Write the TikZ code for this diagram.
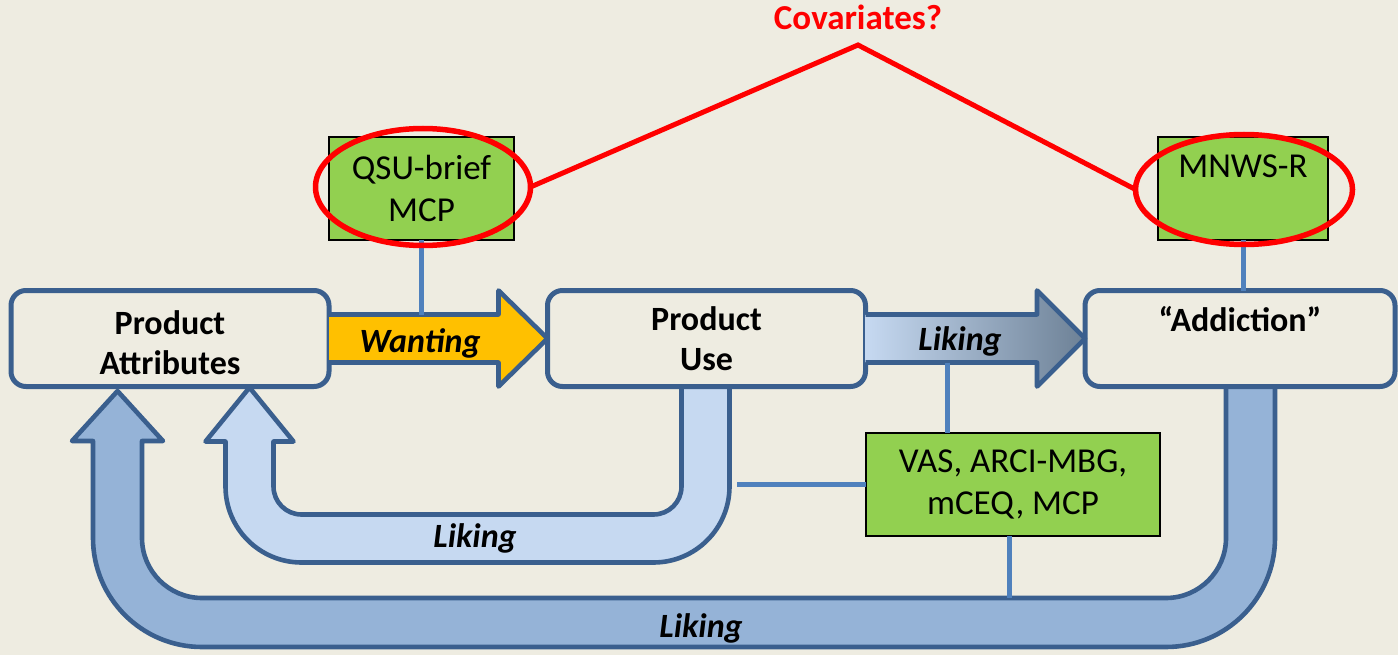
\documentclass[tikz,border=0pt]{standalone}
\usepackage{fontspec}
\setmainfont{Carlito}
\usetikzlibrary{calc,shapes.geometric}
\definecolor{bg}{HTML}{EEECE1}
\definecolor{frame}{HTML}{3A5F8E}
\definecolor{linkblue}{HTML}{4F81BD}
\definecolor{measgreen}{HTML}{92D050}
\definecolor{amber}{HTML}{FFC000}
\definecolor{paleblue}{HTML}{C6D9F1}
\definecolor{midblue}{HTML}{95B3D7}
\definecolor{steel}{HTML}{6D8196}
\begin{document}
\begin{tikzpicture}[x=1pt,y=-1pt,
  stage/.style={draw=frame, line width=5pt, fill=bg, rounded corners=15pt,
    minimum height=96pt, inner sep=0pt, outer sep=0pt, align=center,
    font=\fontsize{34}{40}\selectfont\bfseries},
  measure/.style={draw=black, line width=1.6pt, fill=measgreen,
    minimum height=103pt, inner sep=0pt, outer sep=0pt, align=center,
    font=\fontsize{35}{42}\selectfont},
  ring/.style={ellipse, draw=red, line width=5.5pt, inner sep=0pt, outer sep=0pt},
  fatarrow/.style={draw=frame, line width=4.6pt, line join=round},
  flowlabel/.style={font=\fontsize{34}{40}\selectfont\bfseries\itshape, inner sep=0pt},
  link/.style={draw=linkblue, line width=5pt},
]
% canvas
\fill[bg] (0,0) rectangle (1398,655);
\useasboundingbox (0,0) rectangle (1398,655);

% stage boxes (positions only; drawn later on top of the feedback arrows)
\path (170,338.5) coordinate (paC) (706.5,338.5) coordinate (puC) (1240,338.5) coordinate (adC);
\path (paC) node[stage, minimum width=318pt, draw=none, fill=none] (pa) {\phantom{Product}\\\phantom{Attributes}};
\path (puC) node[stage, minimum width=318pt, draw=none, fill=none] (pu) {\phantom{Product}\\\phantom{Use}};
\path (adC) node[stage, minimum width=310pt, draw=none, fill=none] (ad) {\phantom{A}};

% feedback: Addiction -> Product Attributes
\draw[fatarrow, fill=midblue] ($(ad.south)+(35,0)$)
  -- ++(0,151.5) arc[start angle=0,end angle=90,radius=109]
  -- ++(-964,0) arc[start angle=90,end angle=180,radius=109]
  -- ++(0,-97) -- ++(-21,0) -- ++(45.5,-50) -- ++(45.5,50) -- ++(-21,0)
  -- ++(0,97) arc[start angle=180,end angle=90,radius=60]
  -- ++(964,0) arc[start angle=90,end angle=0,radius=60]
  -- ++(0,-151.5) -- cycle;
% feedback: Product Use -> Product Attributes
\draw[fatarrow, fill=paleblue] ($(pu.south)+(23,0)$)
  -- ++(0,100) arc[start angle=0,end angle=90,radius=76]
  -- ++(-352,0) arc[start angle=90,end angle=180,radius=76]
  -- ++(0,-45) -- ++(-20,0) -- ++(44,-54) -- ++(44,54) -- ++(-20,0)
  -- ++(0,45) arc[start angle=180,end angle=90,radius=28]
  -- ++(352,0) arc[start angle=90,end angle=0,radius=28]
  -- ++(0,-100) -- cycle;
\node[flowlabel] (l2) at (475,538) {Liking};
\node[flowlabel] (l3) at (701,628) {Liking};

% stage boxes
\node[stage, minimum width=318pt] (pa) at (paC) {\rule{0pt}{33pt}Product\\Attributes};
\node[stage, minimum width=318pt] (pu) at (puC) {Product\\Use};
\node[stage, minimum width=310pt] (ad) at (adC) {“Addiction”\\[-12pt]\strut};

% forward arrows
\coordinate (wtop) at ($(pa.east)+(0,-24)$);
\draw[fatarrow, fill=amber] (wtop) -- ($(pu.west)+(-49,-24)$) -- ($(pu.west)+(-49,-48)$)
  -- (pu.west) -- ($(pu.west)+(-49,48)$) -- ($(pu.west)+(-49,24)$) -- ($(pa.east)+(0,24)$);
\node[flowlabel] (l0) at (420,343) {Wanting};
\draw[fatarrow, left color=paleblue, right color=steel] ($(pu.east)+(0,-24)$)
  -- ($(ad.west)+(-48,-24)$) -- ($(ad.west)+(-48,-48)$) -- (ad.west)
  -- ($(ad.west)+(-48,48)$) -- ($(ad.west)+(-48,24)$) -- ($(pu.east)+(0,24)$);
\node[flowlabel] (l1) at (960,341) {Liking};

% measures
\node[measure, minimum width=185pt] (qsu) at (421.5,188.5) {QSU-brief\\MCP};
\node[measure, minimum width=170pt] (mn) at (1243,188.5) {MNWS-R\\[-10pt]\strut};
\node[measure, minimum width=294pt] (vas) at (1013,484.5) {VAS, ARCI-MBG,\\mCEQ, MCP};

% links from measures
\draw[link] (qsu.south) -- (qsu.south |- wtop);
\draw[link] (mn.south) -- (mn.south |- ad.north);
\coordinate (lbot) at ($(pu.east)+(82,24)$);
\draw[link] (lbot) -- (lbot |- vas.north);
\coordinate (vfree) at ($(vas.west)+(-129,0)$);
\draw[link] (vas.west) -- (vfree);
\coordinate (vdrop) at ($(vas.south)+(-4,0)$);
\draw[link] (vdrop) -- ++(0,62);

% covariates
\node[ring, minimum width=215pt, minimum height=117pt] (e1) at (423,187) {};
\node[ring, minimum width=217pt, minimum height=110pt] (e2) at (1244,189.5) {};
\coordinate (apex) at (858,45);
\draw[red, line width=5pt] (e1.east) -- (apex) -- (e2.west);
\node[font=\fontsize{35}{40}\selectfont\bfseries, text=red, inner sep=0pt] (cov) at (858,17) {Covariates?};
\end{tikzpicture}
\end{document}
